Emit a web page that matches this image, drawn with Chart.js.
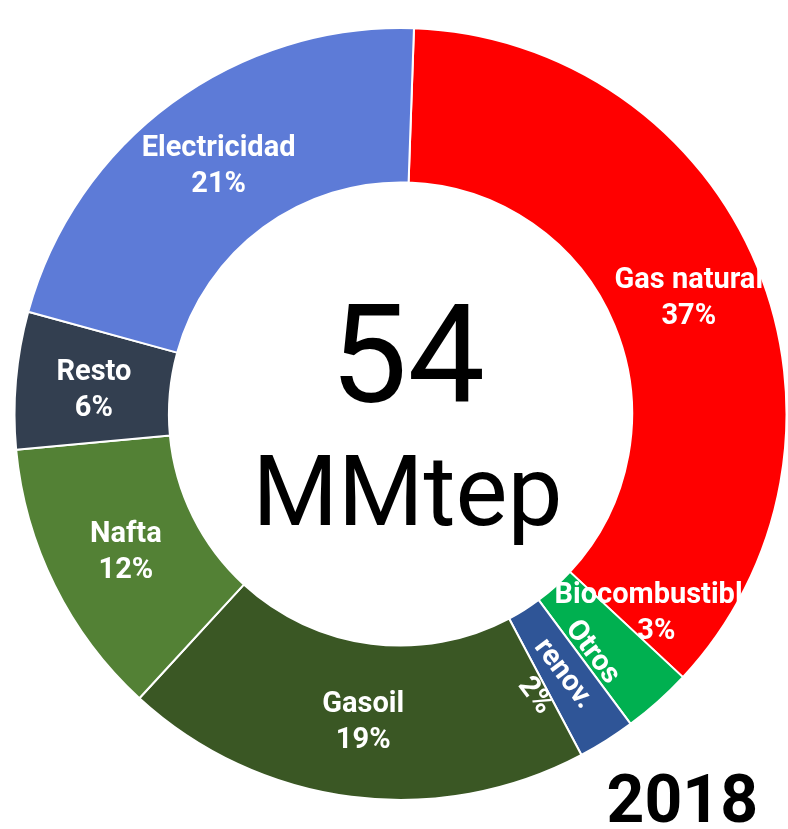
<!DOCTYPE html>
<html>
<head>
<meta charset="utf-8">
<script src="https://cdn.jsdelivr.net/npm/chart.js@4"></script>
<style>
  html, body { margin: 0; padding: 0; background: #fff; }
  #wrap { position: relative; width: 788px; height: 829px; }
</style>
</head>
<body>
<div id="wrap"><canvas id="donut"></canvas></div>
<script>
// data (share of 54 MMtep, clockwise from top)
const categories = ['Gas natural', 'Biocombustible', 'Otros renov.', 'Gasoil', 'Nafta', 'Resto', 'Electricidad']
const shares = [36.4, 2.9, 2.4, 19.6, 11.7, 5.75, 21.3]
const shareLabels = ['37%', '3%', '2%', '19%', '12%', '6%', '21%']
const totalValue = '54'
const totalUnit = 'MMtep'
const yearLabel = '2018'

const colors = ['#ff0000', '#00b050', '#2f5597', '#3a5724', '#538135', '#333f50', '#5d7bd7']

// label tweaks per slice: offset from the arc centroid, rotation (deg), line breaks
const labelStyle = [
  { dx: 3, dy: 3 },
  { dx: 50, dy: -30 },
  { dx: -2, dy: -1, rotate: 53, lines: ['Otros', 'renov.'] },
  { dx: 2, dy: 2 },
  { dx: 2, dy: 2 },
  { dx: 1, dy: 4 },
  { dx: 1, dy: 2 }
]

const sliceLabels = {
  id: 'sliceLabels',
  afterDatasetsDraw (chart) {
    const ctx = chart.ctx
    const meta = chart.getDatasetMeta(0)
    ctx.save()
    const first = meta.data[0]
    ctx.beginPath()
    ctx.arc(first.x, first.y, first.outerRadius, 0, Math.PI * 2)
    ctx.clip()
    ctx.fillStyle = '#fff'
    ctx.font = 'bold 29px Roboto'
    ctx.textAlign = 'center'
    ctx.textBaseline = 'middle'
    meta.data.forEach((arc, i) => {
      const st = labelStyle[i]
      const mid = (arc.startAngle + arc.endAngle) / 2
      const r = (arc.innerRadius + arc.outerRadius) / 2
      const x = arc.x + Math.cos(mid) * r + st.dx
      const y = arc.y + Math.sin(mid) * r + st.dy
      const lines = (st.lines || [categories[i]]).concat([shareLabels[i]])
      const lh = 36
      ctx.save()
      ctx.translate(x, y)
      if (st.rotate) ctx.rotate(st.rotate * Math.PI / 180)
      lines.forEach((t, k) => {
        ctx.fillText(t, 0, (k - (lines.length - 1) / 2) * lh)
      })
      ctx.restore()
    })
    ctx.restore()

    // centre total
    const cx = first.x + 7
    ctx.save()
    ctx.fillStyle = '#000'
    ctx.textAlign = 'center'
    ctx.textBaseline = 'alphabetic'
    ctx.font = '138px Roboto'
    ctx.fillText(totalValue, cx, 402)
    ctx.font = '98px Roboto'
    ctx.fillText(totalUnit, cx, 525)
    ctx.font = 'bold 66px Roboto'
    ctx.textAlign = 'right'
    ctx.fillText(yearLabel, 758, 822)
    ctx.restore()
  }
}

new Chart(document.getElementById('donut'), {
  type: 'doughnut',
  data: {
    labels: categories,
    datasets: [{
      data: shares,
      backgroundColor: colors,
      borderColor: '#fff',
      borderWidth: 2
    }]
  },
  options: {
    responsive: true,
    maintainAspectRatio: false,
    devicePixelRatio: 1,
    animation: false,
    rotation: 2,
    cutout: '60%',
    layout: { padding: { left: 13, right: 0, top: 27, bottom: 28 } },
    plugins: {
      legend: { display: false },
      tooltip: { enabled: false }
    }
  },
  plugins: [sliceLabels]
})
</script>
</body>
</html>
